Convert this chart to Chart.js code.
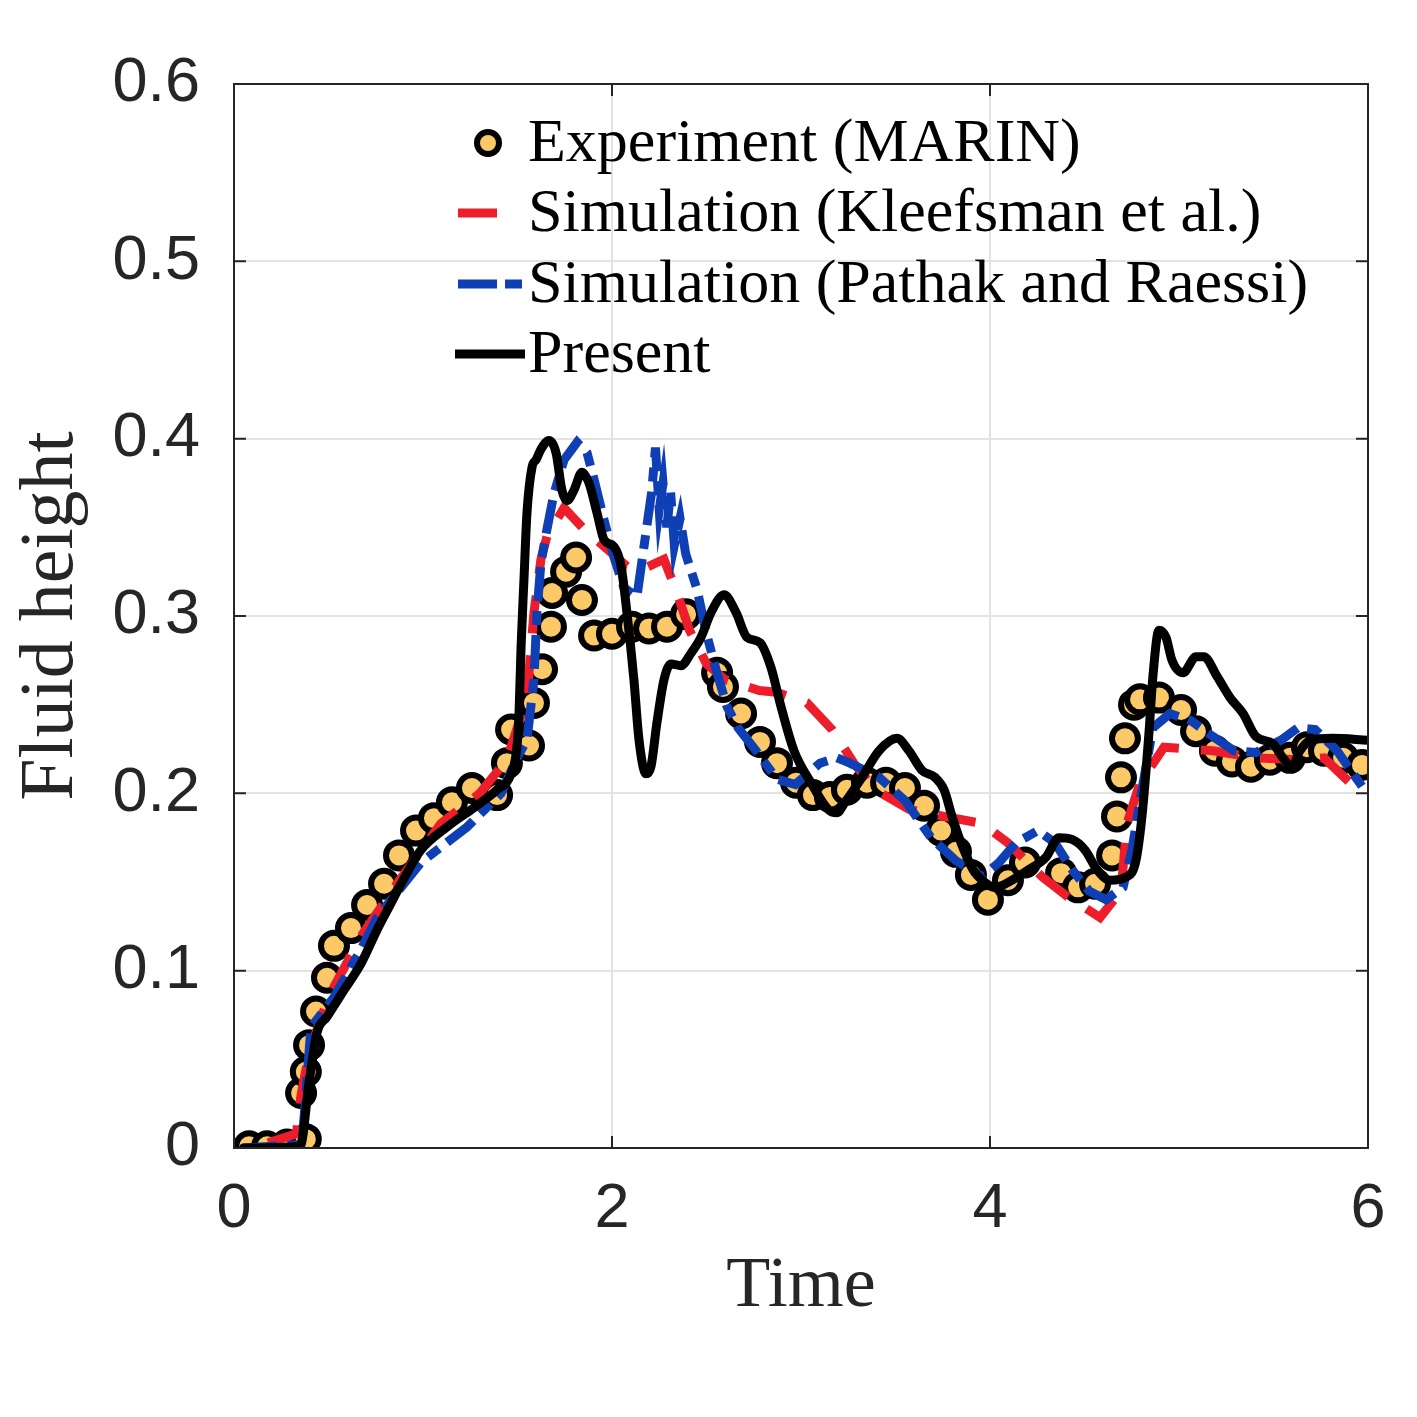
<!DOCTYPE html>
<html>
<head>
<meta charset="utf-8">
<script src="https://cdn.jsdelivr.net/npm/chart.js@4.4.1/dist/chart.umd.min.js"></script>
<style>
  html, body { margin: 0; padding: 0; background: #fff; }
  #wrap { width: 1417px; height: 1417px; position: relative; }
</style>
</head>
<body>
<div id="wrap"><canvas id="line-chart"></canvas></div>
<script>
// Experiment (MARIN)
const expTime = [0.08,0.175,0.28,0.38,0.355,0.38,0.397,0.434,0.492,0.529,0.619,0.704,0.794,0.873,0.963,1.058,1.153,1.259,1.392,1.444,1.466,1.561,1.587,1.630,1.677,1.683,1.757,1.810,1.841,1.905,2.0,2.106,2.196,2.291,2.392,2.556,2.587,2.683,2.783,2.873,2.974,3.063,3.153,3.243,3.349,3.450,3.550,3.651,3.741,3.820,3.899,3.989,4.095,4.185,4.376,4.466,4.556,4.646,4.672,4.693,4.714,4.762,4.794,4.894,5.011,5.090,5.190,5.280,5.381,5.481,5.587,5.677,5.767,5.868,5.968];
const expHeight = [0.001,0.001,0.002,0.005,0.031,0.043,0.058,0.077,0.096,0.114,0.124,0.137,0.149,0.165,0.179,0.186,0.195,0.203,0.199,0.217,0.236,0.227,0.251,0.270,0.294,0.313,0.325,0.333,0.309,0.289,0.290,0.294,0.293,0.294,0.301,0.268,0.260,0.245,0.229,0.217,0.206,0.199,0.198,0.202,0.206,0.206,0.203,0.193,0.179,0.167,0.154,0.140,0.151,0.161,0.155,0.147,0.149,0.165,0.187,0.209,0.231,0.250,0.253,0.254,0.247,0.235,0.224,0.218,0.215,0.219,0.220,0.226,0.224,0.220,0.216];

// Simulation (Kleefsman et al.)
const kleefTime = [0.18,0.33,0.355,0.40,0.5,0.67,0.862,1.095,1.30,1.444,1.55,1.587,1.624,1.656,1.746,1.852,2.079,2.153,2.275,2.344,2.41,2.50,2.60,2.78,2.87,3.032,3.164,3.28,3.392,3.571,3.757,3.958,4.095,4.275,4.407,4.582,4.693,4.725,4.794,4.921,5.18,5.407,5.63,5.767,5.905,5.96];
const kleefHeight = [0.003,0.008,0.03,0.055,0.085,0.119,0.149,0.183,0.200,0.219,0.254,0.302,0.332,0.345,0.361,0.349,0.328,0.326,0.332,0.313,0.292,0.273,0.264,0.258,0.257,0.251,0.236,0.217,0.202,0.191,0.187,0.183,0.172,0.153,0.142,0.130,0.145,0.183,0.206,0.226,0.224,0.220,0.219,0.220,0.206,0.202];

// Simulation (Pathak and Raessi)
const pathakTime = [0.05,0.36,0.407,0.529,0.672,0.757,0.989,1.233,1.413,1.497,1.55,1.587,1.603,1.624,1.656,1.693,1.746,1.815,1.868,1.905,1.958,2.011,2.063,2.132,2.169,2.21,2.23,2.25,2.27,2.29,2.31,2.33,2.36,2.39,2.45,2.50,2.55,2.608,2.667,2.762,2.873,2.97,3.1,3.19,3.259,3.413,3.55,3.688,3.82,3.958,4.048,4.137,4.254,4.344,4.434,4.524,4.614,4.704,4.751,4.794,4.862,4.952,5.063,5.18,5.291,5.407,5.54,5.63,5.72,5.836,5.968];
const pathakHeight = [0,0.002,0.068,0.085,0.112,0.130,0.161,0.181,0.200,0.220,0.230,0.264,0.302,0.330,0.349,0.369,0.388,0.398,0.392,0.377,0.354,0.333,0.316,0.311,0.339,0.37,0.395,0.36,0.375,0.35,0.37,0.34,0.355,0.335,0.315,0.29,0.27,0.249,0.237,0.224,0.208,0.205,0.217,0.220,0.217,0.209,0.196,0.175,0.162,0.153,0.161,0.172,0.179,0.172,0.157,0.145,0.140,0.147,0.168,0.196,0.237,0.245,0.241,0.232,0.224,0.223,0.230,0.237,0.236,0.224,0.204];

// Present
const presentTime = [0.05,0.35,0.397,0.439,0.492,0.582,0.672,0.757,0.831,0.899,0.989,1.127,1.27,1.392,1.466,1.497,1.508,1.519,1.534,1.55,1.577,1.598,1.624,1.667,1.704,1.735,1.762,1.799,1.841,1.878,1.921,1.958,2.011,2.048,2.079,2.116,2.143,2.18,2.206,2.238,2.275,2.312,2.365,2.418,2.471,2.524,2.593,2.656,2.714,2.783,2.841,2.894,2.963,3.053,3.143,3.19,3.233,3.323,3.413,3.508,3.571,3.640,3.709,3.757,3.799,3.847,3.878,3.910,3.958,4.026,4.116,4.206,4.296,4.365,4.434,4.503,4.566,4.635,4.725,4.772,4.804,4.841,4.862,4.894,4.931,4.963,5.021,5.090,5.132,5.201,5.270,5.339,5.407,5.497,5.550,5.598,5.640,5.698,5.81,6.0];
const presentHeight = [0,0.001,0.037,0.065,0.074,0.089,0.104,0.123,0.138,0.152,0.168,0.181,0.192,0.202,0.211,0.226,0.245,0.283,0.320,0.358,0.384,0.388,0.394,0.399,0.392,0.371,0.365,0.371,0.381,0.375,0.358,0.343,0.339,0.328,0.302,0.264,0.230,0.211,0.215,0.240,0.264,0.273,0.272,0.279,0.288,0.302,0.312,0.302,0.288,0.285,0.271,0.249,0.224,0.206,0.191,0.189,0.195,0.209,0.224,0.231,0.224,0.213,0.209,0.202,0.187,0.172,0.164,0.157,0.151,0.147,0.151,0.157,0.164,0.175,0.174,0.168,0.157,0.151,0.153,0.162,0.187,0.234,0.266,0.292,0.288,0.275,0.268,0.277,0.277,0.266,0.254,0.245,0.232,0.228,0.220,0.215,0.224,0.230,0.231,0.230];

const xTicks = [0, 2, 4, 6];
const yTicks = [0, 0.1, 0.2, 0.3, 0.4, 0.5, 0.6];
const labels = ['Experiment (MARIN)', 'Simulation (Kleefsman et al.)', 'Simulation (Pathak and Raessi)', 'Present'];

const axisColor = '#262626';
const redDash = [38, 22];
const blueDash = [34, 10, 14, 10];

function toPoints(xs, ys) {
    return xs.map((x, i) => ({ x: x, y: ys[i] }));
}

// box around the axes + inward ticks (matlab style)
const framePlugin = {
    id: 'frame',
    afterDatasetsDraw(chart) {
        const { ctx, chartArea: a, scales } = chart;
        const len = 12;
        ctx.save();
        ctx.strokeStyle = axisColor;
        ctx.lineWidth = 2;
        ctx.strokeRect(a.left, a.top, a.right - a.left, a.bottom - a.top);
        ctx.beginPath();
        xTicks.forEach(v => {
            const px = scales.x.getPixelForValue(v);
            ctx.moveTo(px, a.bottom); ctx.lineTo(px, a.bottom - len);
            ctx.moveTo(px, a.top); ctx.lineTo(px, a.top + len);
        });
        yTicks.forEach(v => {
            const py = scales.y.getPixelForValue(v);
            ctx.moveTo(a.left, py); ctx.lineTo(a.left + len, py);
            ctx.moveTo(a.right, py); ctx.lineTo(a.right - len, py);
        });
        ctx.stroke();
        ctx.restore();
    }
};

// legend drawn inside the plot area
const insideLegend = {
    id: 'insideLegend',
    afterDraw(chart) {
        const { ctx } = chart;
        const ds = chart.data.datasets;
        const textX = 528;
        const rows = [143, 213, 284, 354];
        ctx.save();
        ctx.font = '62px "Liberation Serif", "DejaVu Serif", serif';
        ctx.textBaseline = 'middle';
        ctx.textAlign = 'left';

        // experiment marker
        ctx.beginPath();
        ctx.arc(488, rows[0], 11, 0, Math.PI * 2);
        ctx.fillStyle = ds[0].backgroundColor;
        ctx.fill();
        ctx.lineWidth = 6;
        ctx.strokeStyle = '#000';
        ctx.stroke();

        ctx.lineCap = 'butt';
        // kleefsman
        ctx.lineWidth = ds[1].borderWidth;
        ctx.strokeStyle = ds[1].borderColor;
        ctx.beginPath();
        ctx.moveTo(458, rows[1]); ctx.lineTo(497, rows[1]);
        ctx.stroke();
        // pathak
        ctx.lineWidth = ds[2].borderWidth;
        ctx.strokeStyle = ds[2].borderColor;
        ctx.setLineDash([39, 8, 17, 20]);
        ctx.beginPath();
        ctx.moveTo(458, rows[2]); ctx.lineTo(522, rows[2]);
        ctx.stroke();
        ctx.setLineDash([]);
        // present
        ctx.lineWidth = ds[3].borderWidth;
        ctx.strokeStyle = ds[3].borderColor;
        ctx.beginPath();
        ctx.moveTo(455, rows[3]); ctx.lineTo(525, rows[3]);
        ctx.stroke();

        ctx.fillStyle = '#000';
        labels.forEach((t, i) => ctx.fillText(t, textX, rows[i] + 2));
        ctx.restore();
    }
};

function renderChart() {
    const ctx = document.getElementById('line-chart');
    Chart.defaults.font.family = '"Liberation Sans", Arial, sans-serif';
    Chart.defaults.color = axisColor;

    new Chart(ctx, {
        type: 'line',
        data: {
            datasets: [{
                label: labels[0],
                data: toPoints(expTime, expHeight),
                showLine: false,
                pointRadius: 13,
                pointBorderWidth: 6,
                pointBorderColor: '#000',
                pointBackgroundColor: '#FCC968',
                backgroundColor: '#FCC968',
                borderColor: '#000',
                order: 3
            },
            {
                label: labels[1],
                data: toPoints(kleefTime, kleefHeight),
                borderColor: '#EE1D2B',
                borderWidth: 9,
                borderDash: redDash,
                pointRadius: 0,
                tension: 0,
                order: 2
            },
            {
                label: labels[2],
                data: toPoints(pathakTime, pathakHeight),
                borderColor: '#0F3FB5',
                borderWidth: 9,
                borderDash: blueDash,
                pointRadius: 0,
                tension: 0,
                order: 1
            },
            {
                label: labels[3],
                data: toPoints(presentTime, presentHeight),
                borderColor: '#000',
                borderWidth: 9,
                borderJoinStyle: 'round',
                borderCapStyle: 'round',
                pointRadius: 0,
                cubicInterpolationMode: 'monotone',
                order: 0
            }]
        },
        options: {
            responsive: true,
            maintainAspectRatio: false,
            animation: false,
            layout: {
                padding: { top: 84, right: 49, left: 0, bottom: 0 }
            },
            plugins: {
                legend: { display: false },
                tooltip: { enabled: false }
            },
            scales: {
                x: {
                    type: 'linear',
                    min: 0,
                    max: 6,
                    afterFit: scale => { scale.height = 269; },
                    afterBuildTicks: scale => { scale.ticks = xTicks.map(v => ({ value: v })); },
                    grid: { color: '#e3e3e3', lineWidth: 2, drawTicks: false },
                    border: { display: false },
                    ticks: {
                        padding: 24,
                        font: { size: 63 },
                        color: axisColor
                    },
                    title: {
                        display: true,
                        text: 'Time',
                        color: axisColor,
                        font: { family: '"Liberation Serif", serif', size: 72, lineHeight: 1 },
                        padding: { top: 0, bottom: 94 }
                    }
                },
                y: {
                    min: 0,
                    max: 0.6,
                    afterFit: scale => { scale.width = 234; },
                    afterBuildTicks: scale => { scale.ticks = yTicks.map(v => ({ value: v })); },
                    grid: { color: '#e3e3e3', lineWidth: 2, drawTicks: false },
                    border: { display: false },
                    ticks: {
                        padding: 34,
                        font: { size: 63 },
                        color: axisColor,
                        callback: v => String(Math.round(v * 10) / 10)
                    },
                    title: {
                        display: true,
                        text: 'Fluid height',
                        color: axisColor,
                        font: { family: '"Liberation Serif", serif', size: 76, lineHeight: 1 },
                        padding: { top: 14, bottom: 0 }
                    }
                }
            }
        },
        plugins: [framePlugin, insideLegend]
    });
}

renderChart();
</script>
</body>
</html>
